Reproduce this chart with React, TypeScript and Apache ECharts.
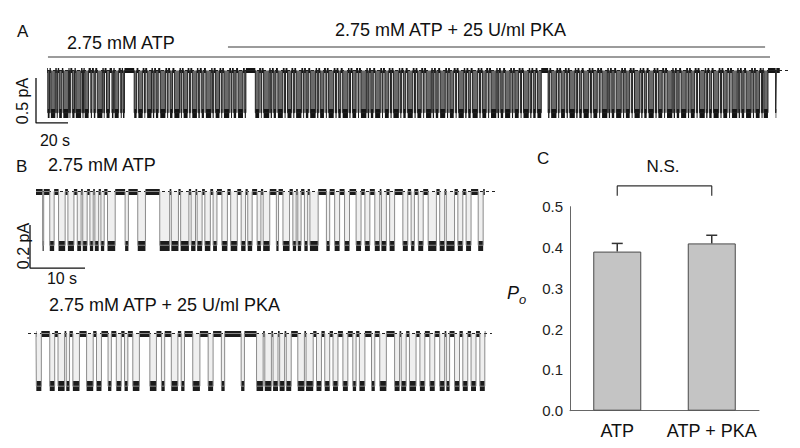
import React, { useEffect, useRef } from "react";
import * as echarts from "echarts";

const FONT = "'Liberation Sans', Arial, Helvetica, sans-serif";

// ---------------- data ----------------
// Panel A: open-channel intervals [start, end] in seconds
const traceAOpen: number[][] = [
  [0.5, 1.6], [2.4, 5.2], [6.1, 6.7], [7.6, 9.3], [10.2, 13.4], [14.1, 14.6], [15.8, 17.2], [18.0, 21.3], [22.2, 22.8],
  [23.6, 26.0], [27.4, 28.1], [29.3, 30.2], [31.4, 34.6], [35.5, 36.0], [37.2, 39.1], [40.6, 41.5], [42.3, 44.8],
  [46.1, 46.7], [47.5, 48.4], [54.5, 56.0], [57.1, 59.8], [60.9, 61.4], [62.6, 65.3], [66.2, 67.0], [68.1, 69.5],
  [70.8, 74.0], [75.1, 75.7], [76.9, 78.4], [79.6, 82.8], [83.7, 84.3], [85.4, 87.9], [89.0, 89.6], [90.8, 93.7],
  [94.6, 95.5], [96.7, 98.1], [99.3, 102.6], [103.5, 104.2], [105.4, 107.8], [108.9, 109.5], [110.6, 113.9],
  [115.0, 115.6], [116.7, 118.2], [119.4, 122.5], [123.6, 124.3], [130.2, 132.6], [133.7, 134.2], [135.4, 138.9],
  [139.8, 140.6], [141.7, 143.1], [144.3, 147.4], [148.5, 149.1], [150.3, 152.8], [153.9, 154.6], [155.7, 159.0],
  [160.1, 160.7], [161.8, 163.3], [164.5, 167.9], [168.8, 169.6], [170.7, 173.1], [174.3, 174.9], [176.0, 179.2],
  [180.3, 181.0], [182.1, 183.6], [184.8, 188.1], [189.0, 189.7], [190.9, 193.2], [194.4, 195.0], [196.2, 199.6],
  [200.5, 201.3], [202.4, 203.9], [205.1, 208.3], [209.4, 210.0], [211.2, 213.6], [214.7, 215.4], [216.5, 219.9],
  [220.8, 221.5], [222.7, 224.2], [225.4, 228.6], [229.7, 230.4], [231.5, 233.9], [235.1, 235.7], [236.9, 240.2],
  [241.1, 241.9], [243.0, 244.5], [245.7, 248.9], [250.0, 250.7], [251.8, 254.2], [255.4, 256.0], [257.2, 260.5],
  [261.4, 262.2], [263.3, 264.8], [266.0, 269.2], [270.3, 271.0], [272.1, 274.5], [275.7, 276.3], [277.5, 280.8],
  [281.7, 282.5], [283.6, 285.1], [286.3, 289.5], [290.6, 291.3], [292.4, 294.8], [296.0, 296.6], [297.8, 301.1],
  [302.0, 302.8], [303.9, 305.4], [306.5, 308.9], [313.2, 314.0], [315.1, 318.4], [319.5, 320.1], [321.3, 323.7],
  [324.8, 325.5], [326.6, 329.9], [330.8, 331.6], [332.7, 334.2], [335.4, 338.6], [339.7, 340.4], [341.5, 343.9],
  [345.1, 345.7], [346.9, 350.2], [351.1, 351.9], [353.0, 354.5], [355.7, 358.9], [360.0, 360.7], [361.8, 364.2],
  [365.4, 366.0], [367.2, 370.5], [371.4, 372.2], [373.3, 374.8], [376.0, 379.2], [380.3, 381.0], [382.1, 384.5],
  [385.7, 386.3], [387.5, 390.8], [391.7, 392.5], [393.6, 395.1], [396.3, 399.5], [400.6, 401.3], [402.4, 404.8],
  [406.0, 406.6], [407.8, 411.1], [412.0, 412.8], [413.9, 415.4], [416.6, 419.8], [420.9, 421.6], [422.7, 425.1],
  [426.3, 426.9], [428.1, 431.4], [432.3, 433.1], [434.2, 435.7], [436.9, 440.1], [441.2, 441.9], [443.0, 445.4],
  [446.6, 447.2], [448.0, 450.6], [455.4, 455.8],
];
const traceAEnd = 458;
const traceAAmp = 0.47; // pA
const traceABaseline = [0, 464.4];
const traceAAtpPeriod = [0.6, 451.9];
const traceAPkaPeriod = [113.1, 448.8];

// Panel B, top: 2.75 mM ATP
const traceB1Open: number[][] = [
  [1.2, 1.4], [2.5, 3.3], [4.1, 5.3], [5.8, 6.9], [7.5, 8.2], [8.5, 9.3], [9.8, 10.4], [10.7, 11.4], [11.8, 12.4],
  [13.0, 14.4], [16.2, 16.8], [18.5, 19.9], [22.5, 24.3], [24.6, 25.9], [26.3, 27.8], [28.2, 29.0], [29.3, 30.2],
  [30.7, 31.7], [32.2, 32.9], [33.8, 34.8], [35.4, 36.6], [37.3, 38.1], [38.5, 39.3], [40.2, 40.9], [41.3, 42.5],
  [43.7, 44.1], [44.9, 46.1], [46.7, 47.3], [47.6, 48.2], [48.8, 49.4], [49.8, 51.3], [52.8, 53.4], [54.3, 55.2],
  [56.1, 57.0], [58.2, 59.1], [59.8, 60.7], [61.6, 62.5], [62.8, 63.7], [64.3, 65.2], [66.7, 67.6], [68.2, 68.8],
  [69.5, 70.4], [71.3, 72.8], [73.4, 74.3], [74.6, 76.1], [76.7, 77.6], [78.2, 79.1], [80.4, 81.3],
];
const traceB1End = 81.6;
const traceB1Amp = 0.25;
const traceB1Baseline = [0, 83.6];

// Panel B, bottom: 2.75 mM ATP + 25 U/ml PKA
const traceB2Open: number[][] = [
  [0.06, 0.97], [2.5, 3.4], [4.0, 5.2], [5.5, 6.1], [6.7, 7.9], [9.2, 10.4], [11.0, 11.9], [13.1, 13.7], [14.6, 15.5],
  [16.1, 16.7], [17.6, 18.8], [20.7, 21.9], [22.8, 23.4], [24.6, 25.8], [26.4, 27.0], [28.5, 29.8], [31.3, 32.2],
  [33.7, 34.3], [37.3, 37.9], [40.1, 41.3], [41.6, 42.8], [43.1, 44.0], [44.3, 45.2], [45.5, 46.4], [47.6, 48.8],
  [49.1, 50.4], [51.0, 51.9], [52.5, 53.4], [54.0, 54.9], [55.8, 56.7], [57.6, 58.2], [58.8, 59.8], [61.0, 61.6],
  [62.5, 63.7], [65.2, 66.1], [66.4, 67.3], [67.9, 69.1], [69.8, 70.7], [71.6, 72.5], [73.4, 74.3], [74.6, 75.2],
  [76.1, 77.0], [77.6, 78.5], [79.1, 80.0], [80.7, 81.6],
];
const traceB2End = 81.7;
const traceB2Amp = 0.245;
const traceB2Baseline = [-1.45, 82.9];

// scale bars: origin (t, y), lengths dt (s), dy (pA)
const scaleA = { t: -6.875, y: -0.083, dt: 20, dy: 0.5 };
const scaleB = { t: -1.09, y: -0.156, dt: 10, dy: 0.2 };

// Panel C
const poCategories = ["ATP", "ATP + PKA"];
const poMean = [0.39, 0.41];
const poSem = [0.02, 0.02];
const poAxis = { min: 0, max: 0.5, interval: 0.1 };
const nsBracket = { low: 0.527, high: 0.551 };

// ---------------- layout ----------------
type Geo = { left: number; top: number; width: number; height: number; x0: number; pxPerX: number; y0: number; pxPerY: number };
const geoA: Geo = { left: 30, top: 40, width: 765, height: 100, x0: 47, pxPerX: 1.6, y0: 70.5, pxPerY: 90 };
const geoB1: Geo = { left: 20, top: 178, width: 480, height: 100, x0: 36, pxPerX: 5.5, y0: 191.5, pxPerY: 215 };
const geoB2: Geo = { left: 20, top: 318, width: 480, height: 90, x0: 36, pxPerX: 5.5, y0: 333.5, pxPerY: 215 };
const geos = [geoA, geoB1, geoB2];

function ranges(g: Geo) {
  return {
    xmin: (g.left - g.x0) / g.pxPerX,
    xmax: (g.left + g.width - g.x0) / g.pxPerX,
    ymax: (g.y0 - g.top) / g.pxPerY,
    ymin: (g.y0 - g.top - g.height) / g.pxPerY,
  };
}

type TraceStyle = { step: string; fill: string; closedW: number; openW: number; band: string };

function traceSeries(idx: number, opens: number[][], tEnd: number, amp: number, baseline: number[], st: TraceStyle): any[] {
  const step: number[][] = [[0, 0]];
  opens.forEach(([s, e]) => {
    step.push([s, 0], [s, -amp], [e, -amp], [e, 0]);
  });
  step.push([tEnd, 0]);
  const closedSegs: any[] = [];
  let prev = 0;
  opens.forEach(([s, e]) => {
    if (s > prev) closedSegs.push({ coords: [[prev, 0], [s, 0]] });
    prev = e;
  });
  closedSegs.push({ coords: [[prev, 0], [tEnd, 0]] });
  const openSegs = opens.map(([s, e]) => ({ coords: [[s, -amp], [e, -amp]] }));
  return [
    {
      type: "line", xAxisIndex: idx, yAxisIndex: idx, silent: true, symbol: "none",
      data: [[baseline[0], 0], [baseline[1], 0]],
      lineStyle: { type: [3, 3], width: 1, color: "#222" },
    },
    {
      // unresolved flicker inside bursts
      type: "custom", xAxisIndex: idx, yAxisIndex: idx, silent: true,
      data: opens.map(([s, e]) => [s, e, amp]),
      renderItem: (_p: any, api: any) => {
        const a = api.coord([api.value(0), 0]);
        const b = api.coord([api.value(1), -api.value(2)]);
        return { type: "rect", shape: { x: a[0], y: a[1], width: b[0] - a[0], height: b[1] - a[1] }, style: { fill: st.fill } };
      },
    },
    {
      type: "line", xAxisIndex: idx, yAxisIndex: idx, silent: true, symbol: "none",
      data: step, lineStyle: { width: 1, color: st.step },
    },
    {
      type: "lines", coordinateSystem: "cartesian2d", xAxisIndex: idx, yAxisIndex: idx, silent: true,
      data: closedSegs, lineStyle: { width: st.closedW, color: st.band, opacity: 1, cap: "butt" },
    },
    {
      type: "lines", coordinateSystem: "cartesian2d", xAxisIndex: idx, yAxisIndex: idx, silent: true,
      data: openSegs, lineStyle: { width: st.openW, color: st.band, opacity: 1, cap: "butt" },
    },
  ];
}

function scaleSeries(idx: number, sc: { t: number; y: number; dt: number; dy: number }) {
  return {
    type: "line", xAxisIndex: idx, yAxisIndex: idx, silent: true, symbol: "none", clip: false,
    data: [[sc.t, sc.y], [sc.t, sc.y - sc.dy], [sc.t + sc.dt, sc.y - sc.dy]],
    lineStyle: { width: 1.3, color: "#111" },
  };
}

function periodSeries(idx: number, period: number[], level: number) {
  return {
    type: "line", xAxisIndex: idx, yAxisIndex: idx, silent: true, symbol: "none", clip: false,
    data: [[period[0], level], [period[1], level]],
    lineStyle: { width: 1.6, color: "#7a7a7a" },
  };
}

function txt(text: string, x: number, y: number, size: number, align = "left", extra: any = {}) {
  const { style, ...rest } = extra;
  return {
    type: "text", x, y, silent: true, ...rest,
    style: {
      text, fontSize: size, fontFamily: FONT, fill: "#111",
      textAlign: align, textVerticalAlign: "middle", ...(style || {}),
    },
  };
}

const styleA: TraceStyle = { step: "#222", fill: "#6a6a6a", closedW: 5, openW: 9, band: "#141414" };
const styleB: TraceStyle = { step: "#8a8a8a", fill: "#efefef", closedW: 6, openW: 10, band: "#1c1c1c" };

export default function App() {
  const ref = useRef<HTMLDivElement>(null);
  useEffect(() => {
    if (!ref.current) return;
    const chart = echarts.init(ref.current, null, { renderer: "svg" });

    const valueX = geos.map((g, i) => {
      const r = ranges(g);
      return { type: "value", gridIndex: i, min: r.xmin, max: r.xmax, show: false };
    });
    const valueY = geos.map((g, i) => {
      const r = ranges(g);
      return { type: "value", gridIndex: i, min: r.ymin, max: r.ymax, show: false };
    });

    const option: any = {
      animation: false,
      backgroundColor: "#fff",
      textStyle: { fontFamily: FONT },
      grid: [
        ...geos.map((g) => ({ left: g.left, top: g.top, width: g.width, height: g.height })),
        { left: 570, top: 206.7, width: 189, height: 204 },
      ],
      xAxis: [
        ...valueX,
        {
          type: "category", gridIndex: 3, data: poCategories,
          axisLine: { lineStyle: { color: "#666", width: 1 } },
          axisTick: { show: false },
          axisLabel: { interval: 0, fontSize: 18, color: "#111", margin: 11, fontFamily: FONT },
        },
      ],
      yAxis: [
        ...valueY,
        {
          type: "value", gridIndex: 3, min: poAxis.min, max: poAxis.max, interval: poAxis.interval,
          axisLine: { show: true, lineStyle: { color: "#666", width: 1 } },
          axisTick: { show: false },
          splitLine: { show: false },
          axisLabel: { fontSize: 15, color: "#222", margin: 7, fontFamily: FONT, formatter: (v: number) => v.toFixed(1) },
        },
      ],
      series: [
        ...traceSeries(0, traceAOpen, traceAEnd, traceAAmp, traceABaseline, styleA),
        scaleSeries(0, scaleA),
        periodSeries(0, traceAAtpPeriod, 0.15),
        periodSeries(0, traceAPkaPeriod, 0.261),
        ...traceSeries(1, traceB1Open, traceB1End, traceB1Amp, traceB1Baseline, styleB),
        scaleSeries(1, scaleB),
        ...traceSeries(2, traceB2Open, traceB2End, traceB2Amp, traceB2Baseline, styleB),
        {
          type: "bar", xAxisIndex: 3, yAxisIndex: 3, data: poMean, barWidth: 48, silent: true,
          itemStyle: { color: "#c4c4c4", borderColor: "#4a4a4a", borderWidth: 1 },
        },
        {
          type: "custom", xAxisIndex: 3, yAxisIndex: 3, silent: true, clip: false,
          data: poMean.map((m, i) => [i, m, poSem[i]]),
          renderItem: (_p: any, api: any) => {
            const x = api.value(0), m = api.value(1), e = api.value(2);
            const base = api.coord([x, m]);
            const top = api.coord([x, m + e]);
            const half = 5.5;
            return {
              type: "group",
              children: [
                { type: "line", shape: { x1: base[0], y1: base[1], x2: top[0], y2: top[1] }, style: { stroke: "#333", lineWidth: 1.5 } },
                { type: "line", shape: { x1: top[0] - half, y1: top[1], x2: top[0] + half, y2: top[1] }, style: { stroke: "#333", lineWidth: 1.5 } },
              ],
            };
          },
        },
        {
          type: "line", xAxisIndex: 3, yAxisIndex: 3, silent: true, symbol: "none", clip: false,
          data: [[0, nsBracket.low], [0, nsBracket.high], [1, nsBracket.high], [1, nsBracket.low]],
          lineStyle: { width: 1.2, color: "#333" },
        },
      ],
      graphic: [
        txt("A", 17, 31, 17),
        txt("2.75 mM ATP", 67, 43, 18),
        txt("2.75 mM ATP + 25 U/ml PKA", 335, 30, 18),
        txt("0.5 pA", 22, 101, 16, "center", { rotation: Math.PI / 2 }),
        txt("20 s", 55, 140, 16, "center"),
        txt("B", 16, 166, 17),
        txt("2.75 mM ATP", 48, 165, 18),
        txt("0.2 pA", 23, 246, 16, "center", { rotation: Math.PI / 2 }),
        txt("10 s", 62, 278, 16, "center"),
        txt("2.75 mM ATP + 25 U/ml PKA", 49, 305, 18),
        txt("C", 537, 158, 17),
        txt("N.S.", 663, 166, 17, "center"),
        txt("P", 507, 293, 18, "left", { style: { fontStyle: "italic" } }),
        txt("o", 519, 299, 13, "left", { style: { fontStyle: "italic" } }),
      ],
    };
    chart.setOption(option);
    return () => chart.dispose();
  }, []);
  return (
    <div
      ref={ref}
      style={{ position: "fixed", left: 0, top: 0, width: 800, height: 448, background: "#fff" }}
    />
  );
}
